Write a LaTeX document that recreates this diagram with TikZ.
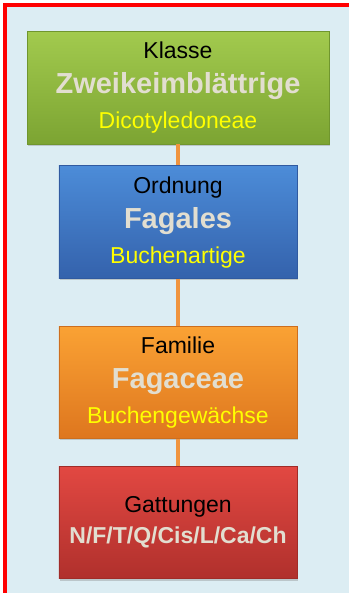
\documentclass[tikz,border=0pt]{standalone}
\usepackage{fontspec}
\setmainfont{Liberation Sans}
\usetikzlibrary{positioning,shadows}

\definecolor{frame}{RGB}{255,0,0}
\definecolor{paper}{RGB}{220,237,243}
\definecolor{stem}{RGB}{240,148,62}
\definecolor{latin}{RGB}{226,222,208}
\definecolor{deutsch}{RGB}{255,255,0}

\newcommand{\taxon}[3]{#1\\{\bfseries\color{latin}\fontsize{29bp}{35bp}\selectfont #2}\\{\color{deutsch}#3}}

\tikzset{
  rang/.style={minimum width=84mm, minimum height=39.7mm, inner sep=0pt,
    align=center, font=\fontsize{23bp}{35bp}\selectfont,
    draw={rgb,255:#1}, line width=0.25mm,
    drop shadow={opacity=0.35, shadow xshift=0.4mm, shadow yshift=-0.6mm}},
  klasse/.style={rang={red,112;green,150;blue,46}, top color={rgb,255:red,162;green,202;blue,78},
    bottom color={rgb,255:red,124;green,164;blue,50}},
  ordnung/.style={rang={red,48;green,90;blue,160}, top color={rgb,255:red,76;green,140;blue,216},
    bottom color={rgb,255:red,52;green,98;blue,172}},
  familie/.style={rang={red,205;green,110;blue,30}, top color={rgb,255:red,250;green,162;blue,52},
    bottom color={rgb,255:red,222;green,118;blue,30}},
  gattung/.style={rang={red,160;green,44;blue,40}, top color={rgb,255:red,226;green,72;blue,66},
    bottom color={rgb,255:red,176;green,48;blue,44}},
  ast/.style={stem, line width=1.6mm}
}

\begin{document}
\begin{tikzpicture}
\useasboundingbox (0,0) rectangle (123.1mm,-209.2mm);
\fill[paper] (2.47mm,-2.47mm) rectangle (123.1mm,-209.2mm);
\draw[frame, line width=1.41mm] (1.76mm,-209.2mm) -- (1.76mm,-1.76mm) -- (123.1mm,-1.76mm);

\node[klasse, minimum width=106.5mm] (kl) at (62.8mm,-31mm)
    {\taxon{Klasse}{Zweikeimbl\"attrige}{Dicotyledoneae}};
\node[ordnung, below=7.4mm of kl] (ord) {\taxon{Ordnung}{Fagales}{Buchenartige}};
\node[familie, below=16.6mm of ord] (fam) {\taxon{Familie}{Fagaceae}{Buchengew\"achse}};
\node[gattung, below=9.5mm of fam] (gat)
    {Gattungen\\[-4bp]{\bfseries\color{latin}N/F/T/Q/Cis/L/Ca/Ch}};

\draw[ast] (kl) -- (ord);
\draw[ast] (ord) -- (fam);
\draw[ast] (fam) -- (gat);
\end{tikzpicture}
\end{document}
